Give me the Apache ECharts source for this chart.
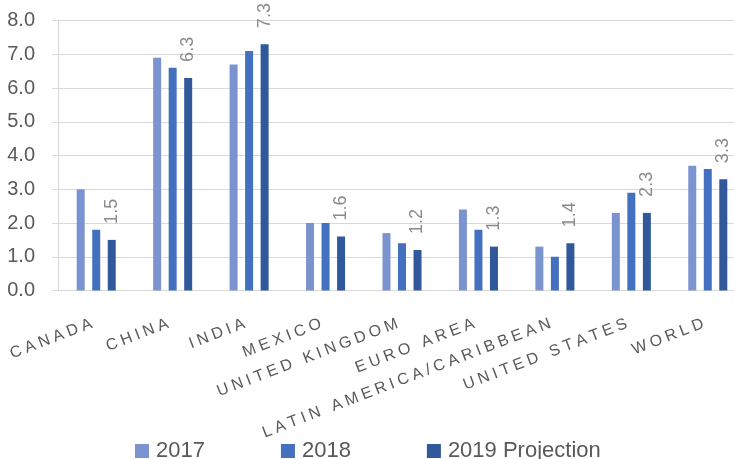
<!DOCTYPE html>
<html>
<head>
<meta charset="utf-8">
<script src="https://cdn.jsdelivr.net/npm/echarts@6/dist/echarts.min.js"></script>
<style>
html,body{margin:0;padding:0;background:#fff;overflow:hidden;width:734px;height:459px;}
#chart{width:747px;height:459px;}
</style>
</head>
<body>
<div id="chart"></div>
<script>
var categories = ['CANADA','CHINA','INDIA','MEXICO','UNITED KINGDOM','EURO AREA','LATIN AMERICA/CARIBBEAN','UNITED STATES','WORLD'];
var values2017 = [3.0, 6.9, 6.7, 2.0, 1.7, 2.4, 1.3, 2.3, 3.7];
var values2018 = [1.8, 6.6, 7.1, 2.0, 1.4, 1.8, 1.0, 2.9, 3.6];
var values2019 = [1.5, 6.3, 7.3, 1.6, 1.2, 1.3, 1.4, 2.3, 3.3];
var seriesNames = ['2017','2018','2019 Projection'];
var yTicks = {min: 0, max: 8, interval: 1};

var chart = echarts.init(document.getElementById('chart'));
var font = '"Liberation Sans", Arial, sans-serif';
// emulate the wide letter spacing of the original axis labels
function spaced(s) { return s.split('').join('\u2005'); }
chart.setOption({
  animation: false,
  textStyle: {fontFamily: font},
  grid: {left: 58, top: 20.5, width: 688, height: 270, containLabel: false},
  legend: {
    data: seriesNames,
    left: 130, top: 435,
    itemWidth: 14, itemHeight: 14, itemGap: 76,
    icon: 'rect',
    textStyle: {fontSize: 22, color: '#595959', fontFamily: font, padding: [0,0,0,2]}
  },
  xAxis: {
    type: 'category',
    data: categories,
    axisLine: {show: true, lineStyle: {color: '#d9d9d9', width: 1}},
    axisTick: {show: false},
    axisLabel: {rotate: 21, margin: 31, padding: [0, 5, 0, 0], fontSize: 16, color: '#595959',
      fontFamily: font, interval: 0,
      formatter: function (v) { return spaced(v); }}
  },
  yAxis: {
    type: 'value',
    min: yTicks.min, max: yTicks.max, interval: yTicks.interval,
    axisLine: {show: true, lineStyle: {color: '#d9d9d9'}},
    axisTick: {show: true, inside: false, length: 6, lineStyle: {color: '#d9d9d9'}},
    splitLine: {show: true, lineStyle: {color: '#d9d9d9', width: 1}},
    axisLabel: {margin: 23, fontSize: 20, color: '#595959', fontFamily: font,
      formatter: function (v) { return v.toFixed(1); }}
  },
  series: [
    {name: seriesNames[0], type: 'bar', data: values2017, barWidth: 8, barGap: '94%',
     itemStyle: {color: '#7b93cf'}},
    {name: seriesNames[1], type: 'bar', data: values2018, barWidth: 8, barGap: '94%',
     itemStyle: {color: '#4470c0'}},
    {name: seriesNames[2], type: 'bar', data: values2019, barWidth: 8, barGap: '94%',
     itemStyle: {color: '#30589a'},
     label: {show: true, position: 'top', rotate: 90, align: 'left', verticalAlign: 'middle',
       distance: 16, fontSize: 18, color: '#8a8a8a', fontFamily: font,
       formatter: function (p) { return p.value.toFixed(1); }}}
  ]
});
</script>
</body>
</html>
